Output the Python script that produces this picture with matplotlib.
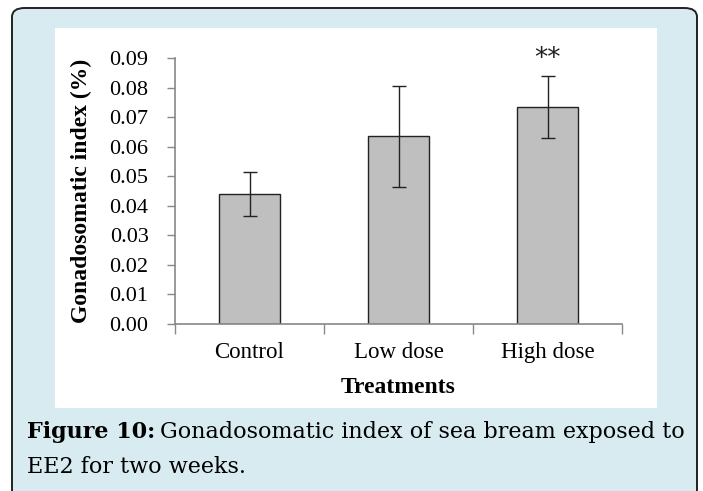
import matplotlib
matplotlib.use("Agg")
import matplotlib.pyplot as plt
from matplotlib.patches import FancyBboxPatch, Rectangle

# data
categories = ["Control", "Low dose", "High dose"]
gsi_mean = [0.044, 0.0635, 0.0735]
gsi_err = [0.0075, 0.017, 0.0105]
y_ticks = [0.00, 0.01, 0.02, 0.03, 0.04, 0.05, 0.06, 0.07, 0.08, 0.09]
signif = ["", "", "**"]

W, H = 703, 491
fig = plt.figure(figsize=(W / 100, H / 100), dpi=100)
fig.patch.set_facecolor("white")

def fx(px):
    return px / W

def fy(py):
    return 1 - py / H

# outer framed box and white panel
frame = FancyBboxPatch((fx(12), fy(580)), fx(697) - fx(12), fy(8) - fy(580),
                       boxstyle="round,pad=0,rounding_size=0.018",
                       transform=fig.transFigure, facecolor="#d7ebf0",
                       edgecolor="#222222", linewidth=1.4, zorder=0)
fig.patches.append(frame)
panel = Rectangle((fx(55), fy(408)), fx(657) - fx(55), fy(28) - fy(408),
                  transform=fig.transFigure, facecolor="white",
                  edgecolor="none", zorder=1)
fig.patches.append(panel)

serif = ["Liberation Serif", "DejaVu Serif"]

ax = fig.add_axes([fx(175), fy(324), fx(622) - fx(175), fy(58) - fy(324)])
ax.set_zorder(5)
ax.set_facecolor("none")
x = range(len(categories))
ax.bar(x, gsi_mean, width=0.41, color="#bfbfbf", edgecolor="#222222",
       linewidth=1.0, zorder=2)
ax.errorbar(x, gsi_mean, yerr=gsi_err, fmt="none", ecolor="#222222",
            elinewidth=1.0, capsize=5, capthick=1.0, zorder=3)
for i, s in enumerate(signif):
    if s:
        ax.text(i, gsi_mean[i] + gsi_err[i] + 0.0013, s, ha="center",
                va="bottom", fontsize=19, family="DejaVu Sans",
                color="#222222", clip_on=False)

ax.set_xlim(-0.5, 2.5)
ax.set_ylim(0, 0.09)
ax.set_yticks(y_ticks)
ax.set_yticklabels(["%.2f" % v for v in y_ticks], family=serif, fontsize=16)
ax.set_xticks([-0.5, 0.5, 1.5, 2.5])
ax.set_xticklabels([])
ax.set_xticks(list(x), minor=True)
ax.set_xticklabels(categories, minor=True, family=serif, fontsize=16.5)
ax.tick_params(axis="x", which="major", direction="out", length=7,
               color="#888888", width=1)
ax.tick_params(axis="x", which="minor", length=0, pad=13)
ax.tick_params(axis="y", direction="out", length=6, color="#888888",
               width=1, pad=13)
for side in ["top", "right"]:
    ax.spines[side].set_visible(False)
for side in ["left", "bottom"]:
    ax.spines[side].set_color("#888888")
    ax.spines[side].set_linewidth(1.2)

ax.set_xlabel("Treatments", family=serif, fontsize=17, fontweight="bold",
              labelpad=10)
ax.set_ylabel("Gonadosomatic index (%)", family=serif, fontsize=17,
              fontweight="bold", labelpad=13)

# caption
cap_font = ["DejaVu Serif Condensed", "DejaVu Serif"]
t1 = fig.text(fx(27), fy(438), "Figure 10:", family=cap_font,
              fontweight="bold", fontsize=16, va="baseline", ha="left")
fig.canvas.draw()
bb = t1.get_window_extent()
fig.text((bb.x1 + 5) / W, fy(438),
         "Gonadosomatic index of sea bream exposed to", family=cap_font,
         fontsize=16, va="baseline", ha="left")
fig.text(fx(27), fy(473), "EE2 for two weeks.", family=cap_font,
         fontsize=16, va="baseline", ha="left")

fig.savefig("out.png", dpi=100)
